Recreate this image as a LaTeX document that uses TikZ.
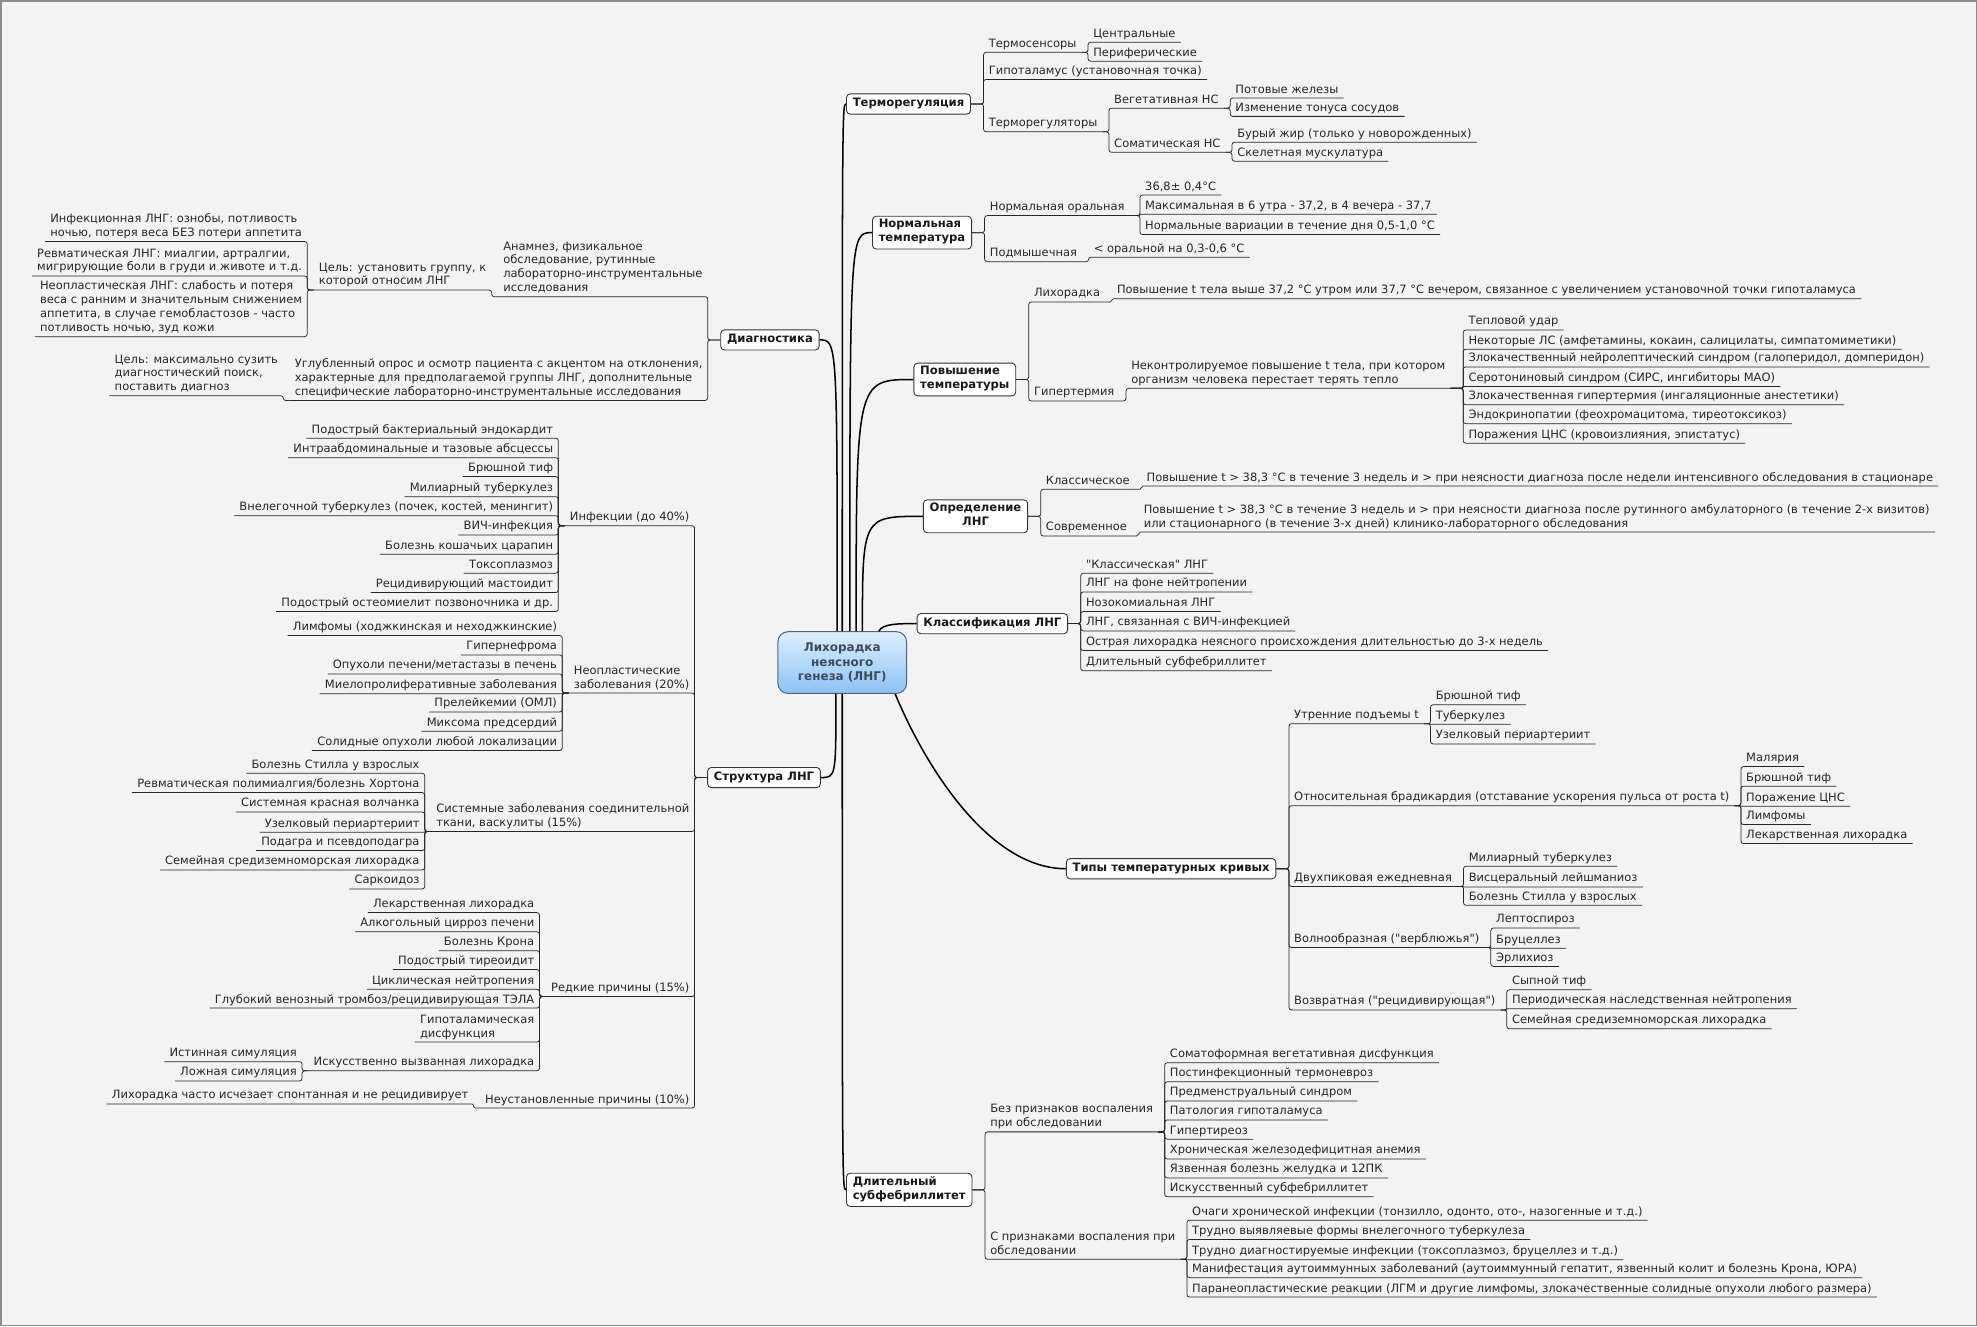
\documentclass[tikz,border=0pt]{standalone}
\usepackage{fontspec}
\setmainfont{DejaVu Sans}
\usepackage{tikz}
\definecolor{bgcol}{HTML}{F3F3F3}
\definecolor{lngtop}{HTML}{DCEEFF}
\definecolor{lngbot}{HTML}{8DC3F6}
\definecolor{lngline}{HTML}{4D6680}
\definecolor{lngtext}{HTML}{3B4B5C}

% branch to the right: start anchor, xshift, name prefix, list of dy/text
\newcommand{\rbranch}[4]{%
  \foreach \dy/\tx [count=\i] in {#4} {
    \node[leaf, anchor=south west] (#3\i) at ([shift={(#2,\dy)}]#1) {\tx};
    \pgfmathsetmacro{\rc}{min(2,abs(\dy)/2)}
    \draw[link, rounded corners=\rc pt] (#1) -| (#3\i.south west) -- (#3\i.south east);
  }%
}
% branch to the left
\newcommand{\lbranch}[4]{%
  \foreach \dy/\tx [count=\i] in {#4} {
    \node[leaf, anchor=south east] (#3\i) at ([shift={(#2,\dy)}]#1) {\tx};
    \pgfmathsetmacro{\rc}{min(2,abs(\dy)/2)}
    \draw[link, rounded corners=\rc pt] (#1) -| (#3\i.south east) -- (#3\i.south west);
  }%
}

\begin{document}
\begin{tikzpicture}[x=1pt, y=-1pt,
    leaf/.style={font=\fontsize{9.1}{11}\selectfont, text=black!85, align=left,
      inner xsep=4pt, inner ysep=0.5pt,
      execute at begin node=\strut, execute at end node=\strut},
    box/.style={draw=black!80, fill=white, rounded corners=3pt, line width=0.7pt,
      inner xsep=5pt, inner ysep=2.5pt, align=left, text=black!90,
      font=\bfseries\fontsize{9.2}{11}\selectfont,
      execute at begin node=\strut, execute at end node=\strut},
    root/.style={draw=lngline, line width=0.8pt, rounded corners=8pt,
      top color=lngtop, bottom color=lngbot, minimum width=102pt, minimum height=49pt,
      align=center, text=lngtext, inner sep=2pt,
      font=\bfseries\fontsize{9.5}{11.5}\selectfont},
    link/.style={draw=black!85, line width=0.6pt},
    trunk/.style={draw=black, line width=1.2pt}]
    \useasboundingbox (0,0) rectangle (1568,1052);
    \fill[bgcol] (0,0) rectangle (1568,1052);
    \draw[black!45, line width=1.2pt] (0.6,0.6) rectangle (1567.4,1051.4);

    % Central topic
    \node[root] (lng) at (668,525.5) {Лихорадка\\неясного\\генеза (ЛНГ)};

    % Main topics
    \node[box, anchor=west] (termo) at (671,82.5) {Терморегуляция};
    \node[box, anchor=west] (norm) at (691.6,184.5) {Нормальная\\температура};
    \node[box, anchor=west] (povt) at (724.5,301) {Повышение\\температуры};
    \node[box, anchor=west, align=center] (opr) at (732,409.5) {Определение\\ЛНГ};
    \node[box, anchor=west] (klass) at (727,494.6) {Классификация ЛНГ};
    \node[box, anchor=west] (tipy) at (845.4,689) {Типы температурных кривых};
    \node[box, anchor=west] (dlit) at (671,943.7) {Длительный\\субфебриллитет};
    \node[box, anchor=east] (diag) at (650,269.6) {Диагностика};
    \node[box, anchor=east] (strukt) at (651,616.7) {Структура ЛНГ};

    % Curves from the central topic
    \coordinate (cd) at ([xshift=-4pt]lng.north);
    \coordinate (ct) at (lng.north);
    \coordinate (cn) at ([xshift=6pt]lng.north);
    \coordinate (cp) at ([xshift=11pt]lng.north);
    \coordinate (co) at ([xshift=16pt]lng.north);
    \coordinate (ck) at ([xshift=29pt]lng.north);
    \coordinate (cs) at ([xshift=-5pt]lng.south);
    \coordinate (cl) at (lng.south);
    \coordinate (cy) at ([xshift=42pt]lng.south);
    \draw[trunk] (ct) .. controls (ct |- termo.west) .. (termo.west);
    \draw[trunk] (cn) .. controls (cn |- norm.west) .. (norm.west);
    \draw[trunk] (cp) .. controls (cp |- povt.west) .. (povt.west);
    \draw[trunk] (co) .. controls (co |- opr.west) .. (opr.west);
    \draw[trunk] (ck) .. controls ([shift={(3,-6)}]ck) and ([shift={(-15,0)}]klass.west) .. (klass.west);
    \draw[trunk] (cy) .. controls ([shift={(25,60)}]cy) and ([shift={(-60,0)}]tipy.west) .. (tipy.west);
    \draw[trunk] (cl) .. controls (cl |- dlit.west) .. (dlit.west);
    \draw[trunk] (diag.east) .. controls (cd |- diag.east) .. (cd);
    \draw[trunk] (strukt.east) .. controls (cs |- strukt.east) .. (cs);

    % Терморегуляция
    \rbranch{termo.east}{10}{tr}{-41/{Термосенсоры}, -19.5/{Гипоталамус (установочная точка)}, 22/{Терморегуляторы}}
    \rbranch{tr1.south east}{5}{ts}{-8/{Центральные}, 7/{Периферические}}
    \rbranch{tr3.south east}{5}{rg}{-18.7/{Вегетативная НС}, 16.3/{Соматическая НС}}
    \rbranch{rg1.south east}{5}{vg}{-8/{Потовые железы}, 6.5/{Изменение тонуса сосудов}}
    \rbranch{rg2.south east}{5}{sm}{-8/{Бурый жир (только у новорожденных)}, 7/{Скелетная мускулатура}}

    % Нормальная температура
    \rbranch{norm.east}{10}{nt}{-13.5/{Нормальная оральная}, 23/{Подмышечная}}
    \rbranch{nt1.south east}{8}{no}{-16.3/{36,8± 0,4°C}, -1/{Максимальная в 6 утра - 37,2, в 4 вечера - 37,7}, 15/{Нормальные вариации в течение дня 0,5-1,0 °C}}
    \rbranch{nt2.south east}{5}{pm}{-3.5/{< оральной на 0,3-0,6 °C}}

    % Повышение температуры
    \rbranch{povt.east}{10}{pv}{-61.5/{Лихорадка}, 17/{Гипертермия}}
    \rbranch{pv1.south east}{5}{lh}{-2.5/{Повышение t тела выше 37,2 °C утром или 37,7 °C вечером, связанное с увеличением установочной точки гипоталамуса}}
    \rbranch{pv2.south east}{5}{gt}{-10/{Неконтролируемое повышение t тела, при котором\\организм человека перестает терять тепло}}
    \rbranch{gt1.south east}{10}{gh}{-46.3/{Тепловой удар}, -31.1/{Некоторые ЛС (амфетамины, кокаин, салицилаты, симпатомиметики)}, -17/{Злокачественный нейролептический синдром (галоперидол, домперидон)}, -1.5/{Серотониновый синдром (СИРС, ингибиторы МАО)}, 13/{Злокачественная гипертермия (ингаляционные анестетики)}, 28/{Эндокринопатии (феохромацитома, тиреотоксикоз)}, 43.5/{Поражения ЦНС (кровоизлияния, эпистатус)}}

    % Определение ЛНГ
    \rbranch{opr.east}{10}{op}{-21.4/{Классическое}, 15.6/{Современное}}
    \rbranch{op1.south east}{5}{ok}{-2.6/{Повышение t > 38,3 °C в течение 3 недель и > при неясности диагноза после недели интенсивного обследования в стационаре}}
    \rbranch{op2.south east}{5}{os}{-3.1/{Повышение t > 38,3 °C в течение 3 недель и > при неясности диагноза после рутинного амбулаторного (в течение 2-х визитов)\\или стационарного (в течение 3-х дней) клинико-лабораторного обследования}}

    % Классификация ЛНГ
    \rbranch{klass.east}{10}{kl}{-39.9/{\textquotedbl Классическая\textquotedbl{} ЛНГ}, -25.1/{ЛНГ на фоне нейтропении}, -9.6/{Нозокомиальная ЛНГ}, 5.8/{ЛНГ, связанная с ВИЧ-инфекцией}, 21.4/{Острая лихорадка неясного происхождения длительностью до 3-х недель}, 37.4/{Длительный субфебриллитет}}

    % Типы температурных кривых
    \rbranch{tipy.east}{10}{tp}{-115/{Утренние подъемы t}, -50/{Относительная брадикардия (отставание ускорения пульса от роста t)}, 14/{Двухпиковая ежедневная}, 62.5/{Волнообразная (\textquotedbl верблюжья\textquotedbl)}, 112/{Возвратная (\textquotedbl рецидивирующая\textquotedbl)}}
    \rbranch{tp1.south east}{5}{um}{-15/{Брюшной тиф}, 0.5/{Туберкулез}, 16/{Узелковый периартериит}}
    \rbranch{tp2.south east}{5}{ob}{-31/{Малярия}, -15.5/{Брюшной тиф}, 0.5/{Поражение ЦНС}, 15/{Лимфомы}, 30/{Лекарственная лихорадка}}
    \rbranch{tp3.south east}{5}{dp}{-16/{Милиарный туберкулез}, 0.5/{Висцеральный лейшманиоз}, 15/{Болезнь Стилла у взрослых}}
    \rbranch{tp4.south east}{5}{vb}{-15.5/{Лептоспироз}, 0.5/{Бруцеллез}, 15/{Эрлихиоз}}
    \rbranch{tp5.south east}{5}{vz}{-16/{Сыпной тиф}, -1/{Периодическая наследственная нейтропения}, 15/{Семейная средиземноморская лихорадка}}

    % Длительный субфебриллитет
    \rbranch{dlit.east}{10}{ds}{-46/{Без признаков воспаления\\при обследовании}, 55/{С признаками воспаления при\\обследовании}}
    \rbranch{ds1.south east}{5}{bp}{-54.8/{Соматоформная вегетативная дисфункция}, -39.7/{Постинфекционный термоневроз}, -24.5/{Предменструальный синдром}, -9.5/{Патология гипоталамуса}, 5.8/{Гипертиреоз}, 21.5/{Хроническая железодефицитная анемия}, 36.5/{Язвенная болезнь желудка и 12ПК}, 51.5/{Искусственный субфебриллитет}}
    \rbranch{ds2.south east}{5}{sp}{-31/{Очаги хронической инфекции (тонзилло, одонто, ото-, назогенные и т.д.)}, -15.7/{Трудно выявляевые формы внелегочного туберкулеза}, 0.4/{Трудно диагностируемые инфекции (токсоплазмоз, бруцеллез и т.д.)}, 14.6/{Манифестация аутоиммунных заболеваний (аутоиммунный гепатит, язвенный колит и болезнь Крона, ЮРА)}, 30/{Паранеопластические реакции (ЛГМ и другие лимфомы, злокачественные солидные опухоли любого размера)}}

    % Диагностика
    \lbranch{diag.west}{-10}{dg}{-34.3/{Анамнез, физикальное\\обследование, рутинные\\лабораторно-инструментальные\\исследования}, 48/{Углубленный опрос и осмотр пациента с акцентом на отклонения,\\характерные для предполагаемой группы ЛНГ, дополнительные\\специфические лабораторно-инструментальные исследования}}
    \lbranch{dg1.south west}{-5}{cu}{-5.3/{Цель: установить группу, к\\которой относим ЛНГ}}
    \lbranch{cu1.south west}{-5}{gr}{-38.4/{Инфекционная ЛНГ: ознобы, потливость\\ночью, потеря веса БЕЗ потери аппетита}, -11.1/{Ревматическая ЛНГ: миалгии, артралгии,\\мигрирующие боли в груди и животе и т.д.}, 37/{Неопластическая ЛНГ: слабость и потеря\\веса с ранним и значительным снижением\\аппетита, в случае гемобластозов - часто\\потливость ночью, зуд кожи}}
    \lbranch{dg2.south west}{-5}{cs}{-3.7/{Цель: максимально сузить\\диагностический поиск,\\поставить диагноз}}

    % Структура ЛНГ
    \lbranch{strukt.west}{-10}{st}{-199.8/{Инфекции (до 40\%)}, -67/{Неопластические\\заболевания (20\%)}, 42.8/{Системные заболевания соединительной\\ткани, васкулиты (15\%)}, 173.7/{Редкие причины (15\%)}, 262.1/{Неустановленные причины (10\%)}}
    \lbranch{st1.south west}{-5}{in}{-69.4/{Подострый бактериальный эндокардит}, -53.9/{Интраабдоминальные и тазовые абсцессы}, -38.9/{Брюшной тиф}, -23/{Милиарный туберкулез}, -7.9/{Внелегочной туберкулез (почек, костей, менингит)}, 7.4/{ВИЧ-инфекция}, 22.7/{Болезнь кошачьих царапин}, 37.7/{Токсоплазмоз}, 53.1/{Рецидивирующий мастоидит}, 68.1/{Подострый остеомиелит позвоночника и др.}}
    \lbranch{st2.south west}{-5}{ne}{-45.7/{Лимфомы (ходжкинская и неходжкинские)}, -30.3/{Гипернефрома}, -15.2/{Опухоли печени/метастазы в печень}, 0.5/{Миелопролиферативные заболевания}, 15/{Прелейкемии (ОМЛ)}, 30.3/{Миксома предсердий}, 45.6/{Солидные опухоли любой локализации}}
    \lbranch{st3.south west}{-5}{sy}{-46.2/{Болезнь Стилла у взрослых}, -30.9/{Ревматическая полимиалгия/болезнь Хортона}, -15.5/{Системная красная волчанка}, 0.5/{Узелковый периартериит}, 15.1/{Подагра и псевдоподагра}, 30.5/{Семейная средиземноморская лихорадка}, 45.5/{Саркоидоз}}
    \lbranch{st4.south west}{-5}{rc}{-66.6/{Лекарственная лихорадка}, -51.4/{Алкогольный цирроз печени}, -36.4/{Болезнь Крона}, -21.4/{Подострый тиреоидит}, -5.8/{Циклическая нейтропения}, 9.1/{Глубокий венозный тромбоз/рецидивирующая ТЭЛА}, 36.1/{Гипоталамическая\\дисфункция}, 58.9/{Искусственно вызванная лихорадка}}
    \lbranch{rc8.south west}{-5}{sim}{-7.3/{Истинная симуляция}, 8/{Ложная симуляция}}
    \lbranch{st5.south west}{-5}{un}{-3.3/{Лихорадка часто исчезает спонтанная и не рецидивирует}}
\end{tikzpicture}
\end{document}
